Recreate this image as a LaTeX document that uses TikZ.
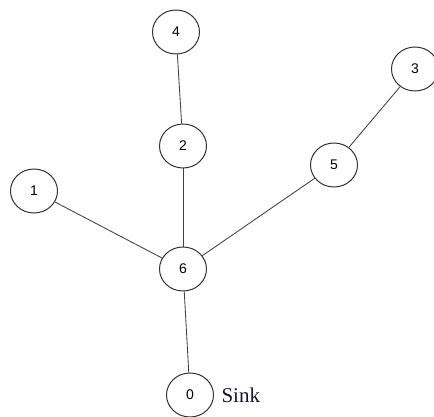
\documentclass[tikz,border=0pt]{standalone}
\usepackage{fontspec}
\setmainfont{Liberation Serif}
\newfontfamily\digitfont{Liberation Sans}
\usetikzlibrary{shapes.geometric,positioning}
\definecolor{sinkblue}{RGB}{20,20,45}
\tikzset{
  vtx/.style  = {draw=black!80, ellipse, line width=1pt, minimum width=47pt,
                 minimum height=44pt, inner sep=0pt, fill=white,
                 font=\digitfont\fontsize{14}{14}\selectfont},
  link/.style = {draw=black!75, line width=0.85pt},
  lab/.style  = {font=\fontsize{21}{21}\selectfont, text=sinkblue, anchor=west},
}

\begin{document}
\begin{tikzpicture}[x=1pt, y=-1pt]
  \useasboundingbox (0,0) rectangle (434,417);
  \node[vtx] (n4) at (176,32)  {4};
  \node[vtx] (n3) at (415,69)  {3};
  \node[vtx] (n2) at (183,146) {2};
  \node[vtx] (n5) at (334,165) {5};
  \node[vtx] (n1) at (34,191)  {1};
  \node[vtx] (n6) at (183,269) {6};
  \node[vtx] (n0) at (190,395) {0};
  \node[lab, right=4pt of n0.east] (sink) {Sink};
  \draw[link] (n4) -- (n2);
  \draw[link] (n2) -- (n6);
  \draw[link] (n3) -- (n5);
  \draw[link] (n5) -- (n6);
  \draw[link] (n1) -- (n6);
  \draw[link] (n6) -- (n0);
\end{tikzpicture}
\end{document}
